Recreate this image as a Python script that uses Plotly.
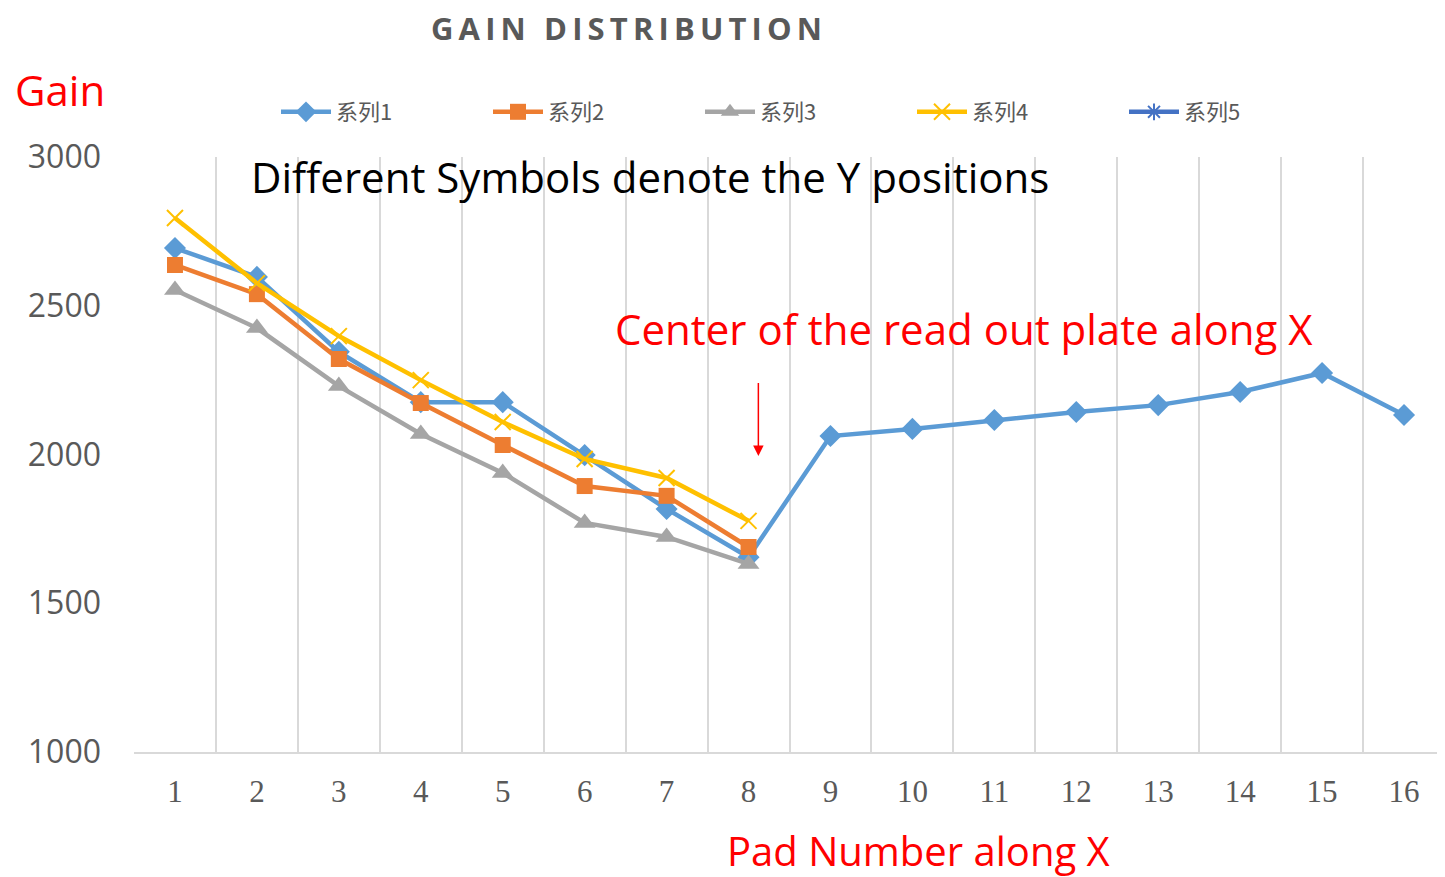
import plotly.graph_objects as go

pads = list(range(1, 17))
pads_left = list(range(1, 9))

series1 = [2694, 2597, 2345, 2176, 2176, 1998, 1817, 1655,
           2062, 2086, 2116, 2143, 2166, 2210, 2274, 2133]
series2 = [2637, 2539, 2321, 2173, 2032, 1894, 1861, 1689]
series3 = [2553, 2425, 2230, 2069, 1938, 1770, 1723, 1632]
series4 = [2795, 2576, 2398, 2250, 2109, 1985, 1921, 1777]

names = ["系列1", "系列2", "系列3", "系列4", "系列5"]
y_ticks = [1000, 1500, 2000, 2500, 3000]

fig = go.Figure()
fig.add_trace(go.Scatter(x=pads, y=series1, name=names[0], mode="lines+markers",
                         line=dict(color="#5B9BD5", width=4.5),
                         marker=dict(symbol="diamond", size=17, color="#5B9BD5")))
fig.add_trace(go.Scatter(x=pads_left, y=series2, name=names[1], mode="lines+markers",
                         line=dict(color="#ED7D31", width=4.5),
                         marker=dict(symbol="square", size=16, color="#ED7D31")))
fig.add_trace(go.Scatter(x=pads_left, y=series3, name=names[2], mode="lines+markers",
                         line=dict(color="#A5A5A5", width=4.5),
                         marker=dict(symbol="triangle-up", size=19, color="#A5A5A5")))
fig.add_trace(go.Scatter(x=pads_left, y=series4, name=names[3], mode="lines+markers",
                         line=dict(color="#FFC000", width=4.5),
                         marker=dict(symbol="x-thin-open", size=16, color="#FFC000",
                                     line=dict(width=2, color="#FFC000"))))
fig.add_trace(go.Scatter(x=[None], y=[None], name=names[4], mode="lines+markers",
                         line=dict(color="#4472C4", width=4.5),
                         marker=dict(symbol="asterisk-open", size=14, color="#4472C4",
                                     line=dict(width=2, color="#4472C4"))))

# page body has an 8px margin, so the figure is 8px smaller than the window
W, H = 1437, 869
red = "#FF0000"
fig.update_layout(
    width=W, height=H,
    margin=dict(l=126, r=0, t=149, b=125, autoexpand=False),
    plot_bgcolor="white", paper_bgcolor="white",
    showlegend=True,
    legend=dict(orientation="h", xref="container", yref="container",
                x=268 / W, xanchor="left", y=(H - 104) / H, yanchor="middle",
                entrywidth=147, entrywidthmode="pixels", itemwidth=50,
                bgcolor="rgba(0,0,0,0)",
                font=dict(family="Noto Sans CJK SC", size=22, color="#595959")),
    xaxis=dict(range=[0.5, 16.5], tickmode="array", tickvals=pads,
               ticktext=[str(p) for p in pads], showgrid=False,
               ticks="", ticklabelstandoff=11, automargin=False,
               tickfont=dict(family="Liberation Serif", size=31, color="#595959"),
               showline=True, linecolor="#D9D9D9", linewidth=2,
               minor=dict(tick0=0.5, dtick=1, showgrid=True,
                          gridcolor="#D9D9D9", gridwidth=2),
               zeroline=False),
    yaxis=dict(range=[1000, 3000], tickvals=y_ticks, showgrid=False,
               zeroline=False, showline=False, ticks="", automargin=False,
               ticklabelstandoff=32,
               tickfont=dict(family="Open Sans", size=32, color="#595959")),
)


def py(page_y):
    # page pixel row -> paper y of the plot area (top 157, bottom 752)
    return (752 - page_y) / 595


def px(page_x):
    return (page_x - 134) / 1311


sp = "\u2009"
fig.add_annotation(text=sp.join("GAIN") + sp + " " + sp + sp.join("DISTRIBUTION"),
                   xref="paper", yref="paper", x=px(626), y=py(28),
                   xanchor="center", yanchor="middle", showarrow=False, borderpad=0,
                   font=dict(family="Open Sans", size=31, color="#595959",
                             weight="bold"))
fig.add_annotation(text="Gain", xref="paper", yref="paper", x=px(13), y=py(90),
                   xanchor="left", yanchor="middle", showarrow=False,
                   font=dict(family="Open Sans", size=42, color=red))
fig.add_annotation(text="Different Symbols denote the Y positions", xref="paper",
                   yref="paper", x=px(249), y=py(176),
                   xanchor="left", yanchor="middle", showarrow=False,
                   font=dict(family="Open Sans", size=42, color="black"))
fig.add_annotation(text="Center of the read out plate along X", xref="paper",
                   yref="paper", x=px(613), y=py(328),
                   xanchor="left", yanchor="middle", showarrow=False,
                   font=dict(family="Open Sans", size=42, color=red))
fig.add_annotation(text="Pad Number along X", xref="paper", yref="paper",
                   x=px(726), y=py(850), xanchor="left", yanchor="middle",
                   showarrow=False, borderpad=0,
                   font=dict(family="Open Sans", size=40, color=red))
fig.add_annotation(x=8.12, y=1995, ax=8.12, ay=2245, xref="x", yref="y",
                   axref="x", ayref="y", text="", showarrow=True,
                   arrowhead=2, arrowsize=1.4, arrowwidth=1.5, arrowcolor=red)

fig.write_html("out.html")
